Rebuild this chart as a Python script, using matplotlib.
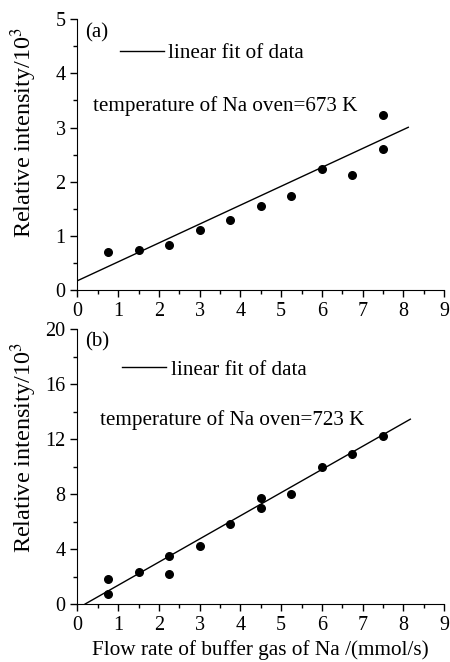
import matplotlib
matplotlib.use('Agg')
import matplotlib.pyplot as plt
from matplotlib.ticker import MultipleLocator

plt.rcParams['font.family'] = ['Liberation Serif', 'DejaVu Serif']
plt.rcParams['mathtext.fontset'] = 'stix'

# (a) oven at 673 K
flowA = [0.75, 1.5, 2.25, 3.0, 3.75, 4.5, 5.25, 6.0, 6.75, 7.5, 7.5]
intensA = [0.71, 0.73, 0.83, 1.10, 1.30, 1.55, 1.73, 2.23, 2.13, 3.23, 2.60]
fitA = [0.17, 0.349]          # intercept, slope
fitRangeA = [0.0, 8.12]

# (b) oven at 723 K
flowB = [0.75, 0.75, 1.5, 2.25, 2.25, 3.0, 3.75, 4.5, 4.5, 5.25, 6.0, 6.75, 7.5]
intensB = [1.8, 0.75, 2.3, 3.5, 2.2, 4.2, 5.8, 7.7, 7.0, 8.0, 9.95, 10.9, 12.2]
fitB = [-0.32, 1.686]
fitRangeB = [0.19, 8.17]

fig = plt.figure(figsize=(4.5, 6.62), dpi=100)
axA = fig.add_axes([0.172, 0.562, 0.815, 0.409])
axB = fig.add_axes([0.172, 0.0876, 0.815, 0.415])

def drawPanel(ax, x, y, fit, fitRange, ymax, ystep, tag, tagY, temp, tempPos, legPos, labY):
    ax.scatter(x, y, s=30, color='black', zorder=3)
    xs = fitRange
    ys = [fit[0] + fit[1] * v for v in xs]
    ax.plot(xs, ys, color='black', lw=1.0, label='linear fit of data')
    ax.set_xlim(0, 9)
    ax.set_ylim(0, ymax)
    ax.xaxis.set_major_locator(MultipleLocator(1))
    ax.xaxis.set_minor_locator(MultipleLocator(0.5))
    ax.yaxis.set_major_locator(MultipleLocator(ystep))
    ax.yaxis.set_minor_locator(MultipleLocator(ystep / 2))
    for s in ['top', 'right']:
        ax.spines[s].set_visible(False)
    ax.tick_params(which='both', direction='out', labelsize=14.5, width=1)
    ax.tick_params(which='major', length=5)
    ax.tick_params(which='minor', length=3)
    ax.set_ylabel('Relative intensity/10$^3$', fontsize=17.5)
    ax.yaxis.set_label_coords(-0.105, labY)
    ax.text(0.021, tagY, tag, transform=ax.transAxes, fontsize=15, va='center')
    ax.text(tempPos[0], tempPos[1], 'temperature of Na oven=' + temp, transform=ax.transAxes,
            fontsize=15.2, va='center')
    ax.legend(loc='center left', bbox_to_anchor=legPos, frameon=False,
              fontsize=15.2, handlelength=2.1, handletextpad=0.2,
              borderaxespad=0, borderpad=0)

drawPanel(axA, flowA, intensA, fitA, fitRangeA, 5, 1, '(a)', 0.95, '673 K', (0.043, 0.68), (0.116, 0.875), 0.58)
drawPanel(axB, flowB, intensB, fitB, fitRangeB, 20, 4, '(b)', 0.954, '723 K', (0.062, 0.67), (0.122, 0.852), 0.57)
axB.set_xlabel('Flow rate of buffer gas of Na /(mmol/s)', fontsize=15.3, labelpad=4)

fig.savefig('out.png', dpi=100)
